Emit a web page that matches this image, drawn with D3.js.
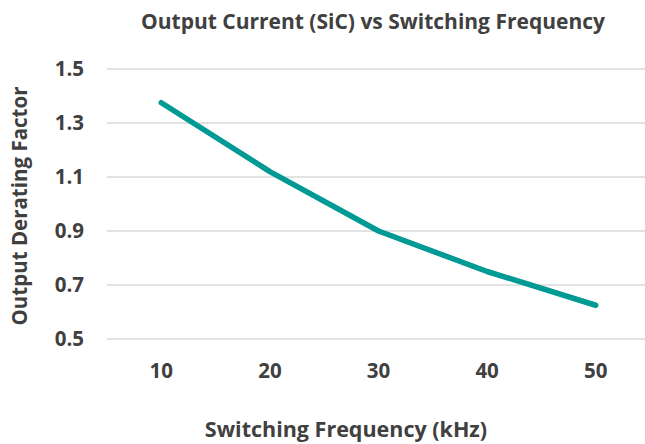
<!DOCTYPE html>
<html>
<head>
<meta charset="utf-8">
<script src="https://cdn.jsdelivr.net/npm/d3@7/dist/d3.min.js"></script>
<style>
  html, body { margin: 0; padding: 0; background: #fff; }
  svg { display: block; font-family: "Open Sans", "Noto Sans", sans-serif; }
</style>
</head>
<body>
<svg id="chart" width="645" height="444"></svg>
<script>
// Switching frequency (kHz) and the matching output derating factor
const frequencies = ["10", "20", "30", "40", "50"];
const deratingFactor = [1.375, 1.12, 0.90, 0.75, 0.625];
const yTicks = [0.5, 0.7, 0.9, 1.1, 1.3, 1.5];

const title = "Output Current (SiC) vs Switching Frequency";
const xTitle = "Switching Frequency (kHz)";
const yTitle = "Output Derating Factor";

const W = 645, H = 444;
const margin = { left: 107, right: -5, top: 69, bottom: 105 };
const svg = d3.select("#chart");
const textColor = "#404040";

const x = d3.scaleBand()
  .domain(frequencies)
  .range([margin.left, W - margin.right]);

const y = d3.scaleLinear()
  .domain([0.5, 1.5])
  .range([H - margin.bottom, margin.top]);

// horizontal gridlines
svg.append("g")
  .selectAll("line")
  .data(yTicks)
  .join("line")
  .attr("x1", margin.left)
  .attr("x2", W - margin.right)
  .attr("y1", d => y(d))
  .attr("y2", d => y(d))
  .attr("stroke", "#d9d9d9")
  .attr("stroke-width", 1.5);

const styleTicks = g => g.selectAll("text")
  .attr("fill", textColor)
  .style("font-size", "20.5px")
  .style("font-weight", "700")
  .style("font-family", "\"Open Sans\", sans-serif");

// y axis labels
const yAxis = d3.axisLeft(y).tickValues(yTicks).tickFormat(d3.format(".1f")).tickSize(0).tickPadding(23);
svg.append("g")
  .attr("transform", `translate(${margin.left},0)`)
  .call(yAxis)
  .call(g => g.select(".domain").remove())
  .call(styleTicks);

// x axis labels
const xAxis = d3.axisBottom(x).tickSize(0).tickPadding(24);
svg.append("g")
  .attr("transform", `translate(0,${H - margin.bottom})`)
  .call(xAxis)
  .call(g => g.select(".domain").remove())
  .call(styleTicks);

// derating curve
const line = d3.line()
  .x((d, i) => x(frequencies[i]) + x.bandwidth() / 2)
  .y(d => y(d));

svg.append("path")
  .datum(deratingFactor)
  .attr("d", line)
  .attr("fill", "none")
  .attr("stroke", "#009a94")
  .attr("stroke-width", 5.5)
  .attr("stroke-linecap", "round")
  .attr("stroke-linejoin", "round");

// titles
svg.append("text")
  .attr("x", 373).attr("y", 29)
  .attr("text-anchor", "middle")
  .attr("fill", textColor)
  .style("font-size", "21px").style("font-weight", "700")
  .text(title);

svg.append("text")
  .attr("x", 346).attr("y", 437)
  .attr("text-anchor", "middle")
  .attr("fill", textColor)
  .style("font-size", "21.5px").style("font-weight", "700")
  .text(xTitle);

svg.append("text")
  .attr("transform", "translate(27,206) rotate(-90)")
  .attr("text-anchor", "middle")
  .attr("fill", textColor)
  .style("font-size", "20.5px").style("font-weight", "700")
  .text(yTitle);
</script>
</body>
</html>
